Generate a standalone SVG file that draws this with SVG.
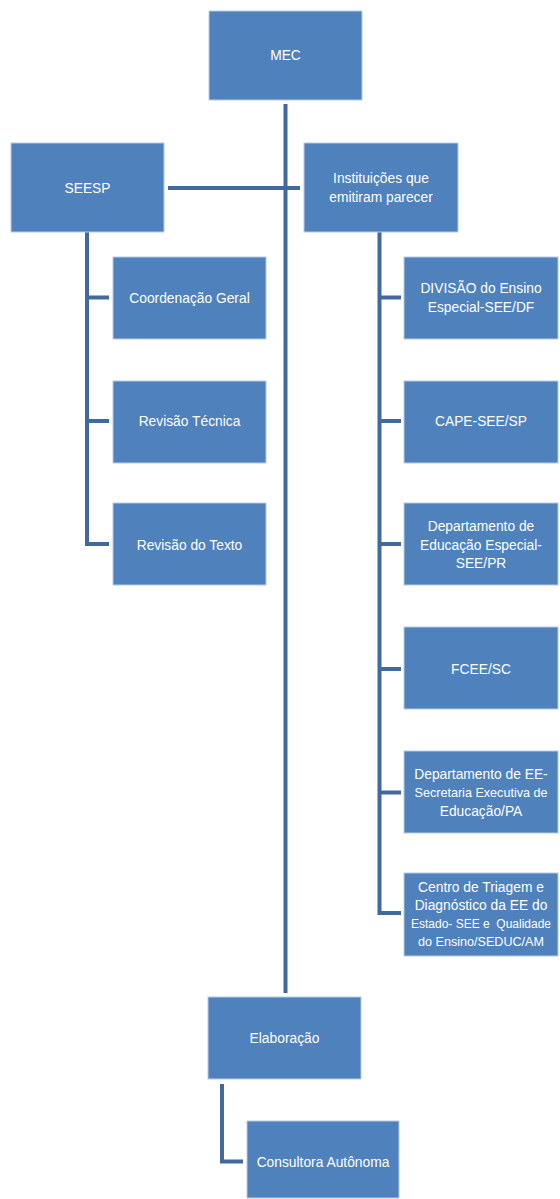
<svg xmlns="http://www.w3.org/2000/svg" width="560" height="1199" viewBox="0 0 560 1199">
<style>
.box{fill:#4f81bd;stroke:#b8cce4;stroke-width:1}
.t{font-family:"Liberation Sans",Arial,sans-serif;font-size:13.8px;fill:#ffffff;text-anchor:middle;dominant-baseline:central}
.s{font-size:12.6px}
.xs{font-size:12px}
.c{fill:none;stroke:#4169a0;stroke-width:4}
</style>
<rect width="560" height="1199" fill="#ffffff"/>
<g id="connectors">
<line class="c" x1="285.5" y1="104" x2="285.5" y2="993"/>
<line class="c" x1="168" y1="188" x2="300" y2="188"/>
<polyline class="c" points="87,221 87,544 109,544"/>
<line class="c" x1="87" y1="297.5" x2="109" y2="297.5"/>
<line class="c" x1="87" y1="421" x2="109" y2="421"/>
<polyline class="c" points="379.5,221 379.5,913 401,913"/>
<line class="c" x1="379.5" y1="297.5" x2="401" y2="297.5"/>
<line class="c" x1="379.5" y1="421" x2="401" y2="421"/>
<line class="c" x1="379.5" y1="544" x2="401" y2="544"/>
<line class="c" x1="379.5" y1="669" x2="401" y2="669"/>
<line class="c" x1="379.5" y1="792.5" x2="401" y2="792.5"/>
<polyline class="c" points="222,1084 222,1161.5 243,1161.5"/>
</g>
<g id="mec"><rect class="box" x="209" y="11" width="153" height="89"/><text class="t" x="285.5" y="55">MEC</text></g>
<g id="seesp"><rect class="box" x="11" y="143" width="153" height="89"/><text class="t" x="87.5" y="188">SEESP</text></g>
<g id="instituicoes"><rect class="box" x="304" y="143" width="154" height="89"/><text class="t" x="381" y="178">Instituições que</text><text class="t" x="381" y="197">emitiram parecer</text></g>
<g id="coordenacao"><rect class="box" x="113" y="257" width="153" height="82"/><text class="t" x="189.5" y="298">Coordenação Geral</text></g>
<g id="revisao-tecnica"><rect class="box" x="113" y="381" width="153" height="82"/><text class="t" x="189.5" y="421">Revisão Técnica</text></g>
<g id="revisao-texto"><rect class="box" x="113" y="503" width="153" height="82"/><text class="t" x="189.5" y="545">Revisão do Texto</text></g>
<g id="divisao"><rect class="box" x="404" y="257" width="154" height="82"/><text class="t" x="481" y="288.5">DIVISÃO do Ensino</text><text class="t" x="481" y="307">Especial-SEE/DF</text></g>
<g id="cape"><rect class="box" x="404" y="381" width="154" height="82"/><text class="t" x="481" y="421">CAPE-SEE/SP</text></g>
<g id="depto-pr"><rect class="box" x="404" y="503" width="154" height="82"/><text class="t" x="481" y="526">Departamento de</text><text class="t" x="481" y="545">Educação Especial-</text><text class="t" x="481" y="563.5">SEE/PR</text></g>
<g id="fcee"><rect class="box" x="404" y="627" width="154" height="82"/><text class="t" x="481" y="669">FCEE/SC</text></g>
<g id="depto-pa"><rect class="box" x="404" y="751" width="154" height="82"/><text class="t" x="481" y="774">Departamento de EE-</text><text class="t s" x="481" y="792.5">Secretaria Executiva de</text><text class="t" x="481" y="811">Educação/PA</text></g>
<g id="centro"><rect class="box" x="404" y="873" width="154" height="83"/><text class="t" x="481" y="887">Centro de Triagem e</text><text class="t" x="481" y="905">Diagnóstico da EE do</text><text class="t xs" x="481" y="923.5">Estado- SEE e&#160; Qualidade</text><text class="t s" x="481" y="942">do Ensino/SEDUC/AM</text></g>
<g id="elaboracao"><rect class="box" x="208" y="997" width="153" height="82"/><text class="t" x="284.5" y="1038">Elaboração</text></g>
<g id="consultora"><rect class="box" x="247" y="1121" width="152" height="77"/><text class="t" x="323" y="1162">Consultora Autônoma</text></g>
</svg>
